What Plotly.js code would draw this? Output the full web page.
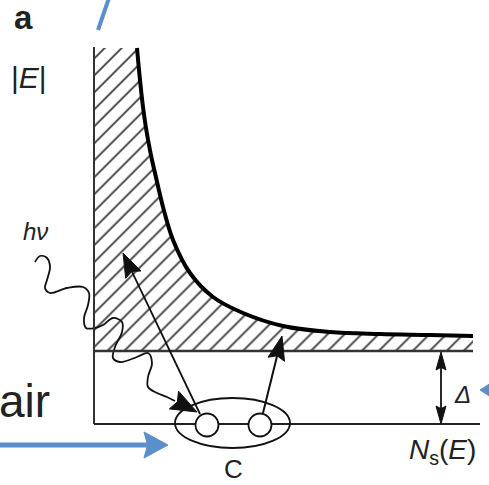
<!DOCTYPE html>
<html><head><meta charset="utf-8">
<script src="https://cdn.plot.ly/plotly-3.0.1.min.js"></script>
<style>html,body{margin:0;padding:0;background:#fff}#g{width:489px;height:485px}</style>
</head><body><div id="g"></div>
<script>
// Density-of-states curve (x = N_s(E), y = |E|), read in pixel-like units
const curveX = [137,140,143,146,149,152,155,163,173,190,213,243,283,330,380,430,473];
const curveY = [48, 80, 107,128,145,160,173,207,240,273,297,313,326,332,334,335,336];
// Axes / levels
const axisX = 94, axisTop = 47, groundY = 424, gapY = 351, rightX = 480, gapRight = 473;
// Photon wave path
const waveX = [35,40,47,50,47,45,50,67,83,89,88,84,86,95,103,113,122,122,115,113,120,137,148,152,148,148,157,167,175];
const waveY = [262,256,258,267,280,288,293,288,287,293,305,318,328,328,325,318,322,332,347,358,362,357,353,363,377,387,393,397,401];
// Cooper pair
const pairEllipse = {x0:175, x1:290, y0:398, y1:448};
const electronsX = [207, 260], electronsY = [425, 425], electronR = 11.5;
// Arrows [tailX, tailY, tipX, tipY]
const longArrow = [200, 414, 123, 253];
const shortArrow = [263, 413, 282, 336];
const waveHead = [172, 399, 197, 412];
const deltaArrow = [441, 387, 441, gapY + 1];
const deltaArrow2 = [441, 387, 441, groundY];
const blueArrow = [0, 445, 168, 445];

const shapes = [];
const annotations = [];
function head(a, L, W, color) {
  const [x0,y0,x1,y1] = a;
  const dx = x1-x0, dy = y1-y0, n = Math.hypot(dx,dy);
  const ux = dx/n, uy = dy/n, px = -uy, py = ux;
  const bx = x1 - L*ux, by = y1 - L*uy;
  shapes.push({type:'path', xref:'x', yref:'y', layer:'above',
    path:`M ${x1} ${y1} L ${bx + W/2*px} ${by + W/2*py} L ${bx + L*0.15*ux} ${by + L*0.15*uy} L ${bx - W/2*px} ${by - W/2*py} Z`,
    fillcolor:color, line:{color:color, width:1}});
  return [bx + L*0.3*ux, by + L*0.3*uy];
}
function arrow(a, L, W, color, lw) {
  const [bx, by] = head(a, L, W, color);
  shapes.push({type:'line', xref:'x', yref:'y', layer:'above', x0:a[0], y0:a[1], x1:bx, y1:by,
    line:{color:color, width:lw}});
}
function line(x0,y0,x1,y1,w,c){ shapes.push({type:'line',xref:'x',yref:'y',layer:'above',x0,y0,x1,y1,line:{color:c,width:w}}); }

// axes
line(axisX, axisTop, axisX, groundY, 2, '#333');
line(axisX, groundY, rightX, groundY, 2, '#222');
line(axisX, gapY, gapRight, gapY, 2.5, '#333');
// Cooper pair
shapes.push({type:'circle', xref:'x', yref:'y', layer:'above', ...pairEllipse, line:{color:'#111', width:1.8}});
// arrows
arrow(longArrow, 24, 17, '#111', 1.8);
arrow(shortArrow, 24, 17, '#111', 2);
arrow(deltaArrow, 18, 10, '#111', 1.8);
arrow(deltaArrow2, 18, 10, '#111', 1.8);
head(waveHead, 26, 20, '#111');
// electrons
electronsX.forEach((cx,i)=>{
  shapes.push({type:'circle', xref:'x', yref:'y', layer:'above',
    x0:cx-electronR, x1:cx+electronR, y0:electronsY[i]-electronR, y1:electronsY[i]+electronR,
    fillcolor:'#fff', line:{color:'#111', width:1.8}});
});
// blue arrows
arrow(blueArrow, 24, 26, '#5b8fcb', 5);
line(98, 30, 109, -2, 4, '#5b8fcb');
head([500, 390, 480, 390], 14, 18, '#5b8fcb');

const F = 'Liberation Sans, Arial, sans-serif';
function txt(t, x, y, size, opts) {
  annotations.push(Object.assign({text:t, x, y, xref:'x', yref:'y', showarrow:false,
    font:{family:F, size, color:'#222'}, xanchor:'center', yanchor:'middle'}, opts||{}));
}
txt('<b>a</b>', 23, 17, 33);
txt('|<i>E</i>|', 29, 77, 30);
txt('<i>hν</i>', 35, 231, 24);
txt('air', 52, 401, 46, {xanchor:'right'});
txt('<i>Δ</i>', 462, 394, 24);
txt('<i>N</i><sub>s</sub>(<i>E</i>)', 442, 451, 28);
txt('C', 233, 469, 26);

// hatch region polygon
const hx = [axisX, axisX].concat(curveX, [gapRight, axisX]);
const hy = [gapY, curveY[0]].concat(curveY, [gapY, gapY]);

const traces = [
  {x:hx, y:hy, type:'scatter', mode:'lines', fill:'toself', fillcolor:'rgba(0,0,0,0)',
   fillpattern:{shape:'/', size:12, solidity:0.15, fgcolor:'#3a3a3a', bgcolor:'#fff'},
   line:{width:0}, hoverinfo:'skip'},
  {x:curveX, y:curveY, type:'scatter', mode:'lines', line:{color:'#000', width:4, shape:'spline', smoothing:1}, hoverinfo:'skip'},
  {x:waveX, y:waveY, type:'scatter', mode:'lines', line:{color:'#111', width:1.8, shape:'spline', smoothing:1}, hoverinfo:'skip'}
];
const layout = {
  width:489, height:485, margin:{l:0,r:0,t:0,b:0}, showlegend:false,
  paper_bgcolor:'#fff', plot_bgcolor:'#fff',
  xaxis:{range:[0,489], visible:false, fixedrange:true},
  yaxis:{range:[485,0], visible:false, fixedrange:true},
  shapes, annotations
};
Plotly.newPlot('g', traces, layout, {staticPlot:true});
</script></body></html>
